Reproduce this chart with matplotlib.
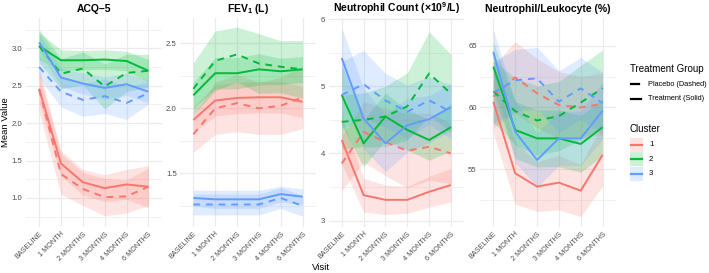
import matplotlib
matplotlib.use('Agg')
import matplotlib.pyplot as plt
from matplotlib.lines import Line2D
from matplotlib.patches import Rectangle

plt.rcParams['font.family'] = ['Liberation Sans', 'DejaVu Sans']
plt.rcParams['mathtext.default'] = 'regular'

visits = ['BASELINE', '1 MONTH', '2 MONTHS', '3 MONTHS', '4 MONTHS', '6 MONTHS']
clusters = ['1', '2', '3']
colors = ['#F8766D', '#00BA38', '#619CFF']
# rows: cluster 1 treat, cluster 1 placebo, cluster 2 treat, cluster 2 placebo, cluster 3 treat, cluster 3 placebo

acq_mean = [[2.46, 1.46, 1.21, 1.13, 1.18, 1.15],
            [2.45, 1.32, 1.12, 1.01, 1.02, 1.15],
            [3.03, 2.84, 2.84, 2.85, 2.83, 2.70],
            [3.03, 2.66, 2.73, 2.49, 2.67, 2.70],
            [3.08, 2.61, 2.53, 2.47, 2.52, 2.42],
            [2.75, 2.42, 2.31, 2.36, 2.27, 2.40]]
acq_ci = [[0.18, 0.17, 0.17, 0.18, 0.20, 0.28],
          [0.30, 0.27, 0.22, 0.25, 0.22, 0.25],
          [0.18, 0.14, 0.13, 0.13, 0.13, 0.15],
          [0.22, 0.20, 0.22, 0.30, 0.25, 0.22],
          [0.12, 0.12, 0.14, 0.15, 0.15, 0.15],
          [0.15, 0.20, 0.22, 0.23, 0.22, 0.15]]

fev_mean = [[1.91, 2.06, 2.08, 2.085, 2.085, 2.05],
            [1.80, 2.00, 2.04, 2.00, 2.02, 2.085],
            [2.10, 2.27, 2.27, 2.30, 2.285, 2.30],
            [2.15, 2.365, 2.415, 2.345, 2.32, 2.30],
            [1.31, 1.30, 1.30, 1.30, 1.34, 1.32],
            [1.26, 1.26, 1.26, 1.26, 1.31, 1.25]]
fev_ci = [[0.10, 0.12, 0.12, 0.12, 0.12, 0.12],
          [0.14, 0.20, 0.22, 0.20, 0.22, 0.24],
          [0.10, 0.12, 0.12, 0.12, 0.10, 0.10],
          [0.20, 0.23, 0.21, 0.23, 0.20, 0.22],
          [0.06, 0.07, 0.07, 0.07, 0.06, 0.06],
          [0.08, 0.08, 0.08, 0.08, 0.08, 0.08]]

neu_mean = [[4.20, 3.38, 3.31, 3.31, 3.43, 3.53],
            [3.85, 4.32, 4.17, 4.04, 4.10, 4.00],
            [4.87, 4.15, 4.55, 4.35, 4.20, 4.39],
            [4.47, 4.50, 4.55, 4.70, 5.19, 4.89],
            [5.42, 4.52, 4.15, 4.42, 4.51, 4.69],
            [4.87, 5.03, 4.79, 4.62, 4.79, 4.62]]
neu_ci = [[0.35, 0.25, 0.22, 0.20, 0.23, 0.25],
          [0.40, 0.45, 0.50, 0.55, 0.50, 0.45],
          [0.45, 0.35, 0.35, 0.30, 0.30, 0.35],
          [0.40, 0.40, 0.45, 0.50, 0.62, 0.58],
          [0.45, 0.45, 0.42, 0.40, 0.35, 0.35],
          [0.50, 0.50, 0.40, 0.40, 0.35, 0.40]]

nlr_mean = [[60.47, 54.68, 53.60, 53.92, 53.27, 56.16],
            [60.88, 62.44, 61.15, 60.20, 60.00, 60.30],
            [63.30, 58.18, 57.50, 57.50, 57.05, 58.40],
            [61.30, 59.70, 58.95, 59.30, 60.40, 61.55],
            [64.50, 58.04, 55.75, 57.50, 57.50, 59.74],
            [61.20, 62.20, 62.36, 60.47, 61.55, 60.34]]
nlr_ci = [[2.5, 2.5, 2.0, 2.2, 2.1, 2.5],
          [2.5, 2.9, 2.8, 2.7, 2.5, 2.5],
          [2.0, 2.3, 2.3, 2.3, 2.3, 2.3],
          [2.5, 2.7, 2.8, 2.8, 3.0, 3.1],
          [1.8, 2.5, 2.2, 2.2, 2.2, 2.3],
          [2.5, 2.5, 2.5, 2.5, 2.5, 2.5]]

panels = [
    ('ACQ–5', acq_mean, acq_ci, (0.611, 3.405), [1.0, 1.5, 2.0, 2.5, 3.0], ['1.0', '1.5', '2.0', '2.5', '3.0'], 0.25, 26),
    ('FEV$_1$ (L)', fev_mean, fev_ci, (1.087, 2.695), [1.5, 2.0, 2.5], ['1.5', '2.0', '2.5'], 0.25, 180.2),
    ('Neutrophil Count (×10$^9$/L)', neu_mean, neu_ci, (2.906, 6.015), [3, 4, 5, 6], ['3', '4', '5', '6'], 0.5, 328.6),
    ('Neutrophil/Leukocyte (%)', nlr_mean, nlr_ci, (50.33, 67.24), [55, 60, 65], ['55', '60', '65'], 2.5, 480.2),
]

W, H = 709, 273
fig = plt.figure(figsize=(W / 100, H / 100), dpi=100)
x = list(range(len(visits)))
grid_c = '#EBEBEB'
txt_c = '#4D4D4D'

for title, mean, ci, ylim, yt, ytl, minor_step, left in panels:
    ax = fig.add_axes([left / W, 1 - 227 / H, 135.5 / W, 209 / H])
    for s in ax.spines.values():
        s.set_visible(False)
    ax.set_xlim(-0.6, 5.6)
    ax.set_ylim(*ylim)
    # minor gridlines
    m = yt[0] - minor_step
    while m < ylim[1]:
        if m > ylim[0]:
            ax.axhline(m, color=grid_c, lw=0.5, zorder=0)
        m += 2 * minor_step
    for v in yt:
        ax.axhline(v, color=grid_c, lw=0.9, zorder=0)
    for xi in x:
        ax.axvline(xi, color=grid_c, lw=0.9, zorder=0)
    # ribbons
    for i in range(6):
        c = colors[i // 2]
        lo = [a - b for a, b in zip(mean[i], ci[i])]
        hi = [a + b for a, b in zip(mean[i], ci[i])]
        ax.fill_between(x, lo, hi, color=c, alpha=0.2, lw=0, zorder=1)
    for i in range(6):
        c = colors[i // 2]
        if i % 2 == 0:
            ax.plot(x, mean[i], color=c, lw=1.4, zorder=3, solid_capstyle='butt')
        else:
            ax.plot(x, mean[i], color=c, lw=1.4, dashes=(3.5, 3), zorder=3, dash_capstyle='butt')
    ax.set_yticks(yt)
    ax.set_yticklabels(ytl, fontsize=5.6, color=txt_c)
    ax.set_xticks(x)
    ax.set_xticklabels(visits, fontsize=5.2, color=txt_c, rotation=45, ha='right', va='top',
                       rotation_mode='anchor')
    ax.tick_params(length=0, pad=2.5)
    ax.set_title(title, fontsize=7.5, fontweight='bold', pad=4.5)

fig.text(6 / W, 1 - 122 / H, 'Mean Value', rotation=90, ha='center', va='center', fontsize=6.8)
fig.text(321 / W, 1 - 267 / H, 'Visit', ha='center', va='center', fontsize=6.8)

# legend: treatment group
fig.text(630 / W, 1 - 68.5 / H, 'Treatment Group', ha='left', va='center', fontsize=7)
fig.add_artist(Line2D([631 / W, 639 / W], [1 - 84 / H, 1 - 84 / H], color='black', lw=1.6))
fig.add_artist(Line2D([631 / W, 641 / W], [1 - 99 / H, 1 - 99 / H], color='black', lw=1.6))
fig.text(648 / W, 1 - 84 / H, 'Placebo (Dashed)', ha='left', va='center', fontsize=5.3)
fig.text(648 / W, 1 - 99 / H, 'Treatment (Solid)', ha='left', va='center', fontsize=5.3)

# legend: cluster
fig.text(630 / W, 1 - 128.5 / H, 'Cluster', ha='left', va='center', fontsize=7)
for k, (lab, c) in enumerate(zip(clusters, colors)):
    yc = 145 + k * 14.4
    fig.add_artist(Rectangle((630 / W, 1 - (yc + 7) / H), 13 / W, 14 / H, facecolor=c, alpha=0.2,
                             lw=0, transform=fig.transFigure))
    fig.add_artist(Line2D([631 / W, 642 / W], [1 - yc / H, 1 - yc / H], color=c, lw=1.6))
    fig.text(649 / W, 1 - yc / H, lab, ha='left', va='center', fontsize=5.6)

fig.savefig('out.png', dpi=100)
